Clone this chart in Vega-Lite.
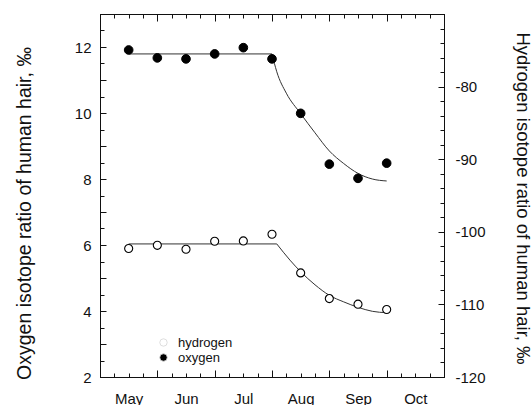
{
  "$schema": "https://vega.github.io/schema/vega-lite/v6.json",
  "width": 344,
  "height": 363,
  "autosize": {"type": "none"},
  "padding": {"left": 100, "top": 14, "right": 88, "bottom": 28},
  "background": "white",
  "config": {
    "font": "Liberation Sans",
    "view": {"stroke": "#111", "strokeWidth": 1},
    "axis": {"domain": false, "grid": false, "ticks": true, "zindex": 2, "tickColor": "#111", "tickWidth": 1, "labelColor": "#111", "titleColor": "#111", "labelFont": "Liberation Sans", "titleFont": "Liberation Sans", "labelFontSize": 15, "titleFontSize": 16, "titleFontWeight": "normal", "labelOverlap": false, "labelFlush": false}
  },
  "datasets": {
    "pts": [
      {"day": 15, "series": "oxygen", "value": 11.91},
      {"day": 30, "series": "oxygen", "value": 11.67},
      {"day": 45, "series": "oxygen", "value": 11.64},
      {"day": 60, "series": "oxygen", "value": 11.79},
      {"day": 75, "series": "oxygen", "value": 11.98},
      {"day": 90, "series": "oxygen", "value": 11.64},
      {"day": 105, "series": "oxygen", "value": 9.99},
      {"day": 120, "series": "oxygen", "value": 8.45},
      {"day": 135, "series": "oxygen", "value": 8.02},
      {"day": 150, "series": "oxygen", "value": 8.48},
      {"day": 15, "series": "hydrogen", "value": -102.3},
      {"day": 30, "series": "hydrogen", "value": -101.86},
      {"day": 45, "series": "hydrogen", "value": -102.4},
      {"day": 60, "series": "hydrogen", "value": -101.3},
      {"day": 75, "series": "hydrogen", "value": -101.26},
      {"day": 90, "series": "hydrogen", "value": -100.34},
      {"day": 105, "series": "hydrogen", "value": -105.66},
      {"day": 120, "series": "hydrogen", "value": -109.2},
      {"day": 135, "series": "hydrogen", "value": -109.97},
      {"day": 150, "series": "hydrogen", "value": -110.7}
    ],
    "fit": [
      {"day": 15, "series": "oxygen", "seg": "flat", "value": 11.79},
      {"day": 90, "series": "oxygen", "seg": "flat", "value": 11.79},
      {"day": 90, "series": "oxygen", "seg": "curve", "value": 11.79},
      {"day": 92.5, "series": "oxygen", "seg": "curve", "value": 11.25},
      {"day": 97.5, "series": "oxygen", "seg": "curve", "value": 10.6},
      {"day": 105, "series": "oxygen", "seg": "curve", "value": 9.98},
      {"day": 112.5, "series": "oxygen", "seg": "curve", "value": 9.4},
      {"day": 120, "series": "oxygen", "seg": "curve", "value": 8.85},
      {"day": 127.5, "series": "oxygen", "seg": "curve", "value": 8.47},
      {"day": 135, "series": "oxygen", "seg": "curve", "value": 8.17},
      {"day": 142.5, "series": "oxygen", "seg": "curve", "value": 8.0},
      {"day": 150, "series": "oxygen", "seg": "curve", "value": 7.94},
      {"day": 15, "series": "hydrogen", "seg": "flat", "value": -101.67},
      {"day": 92.5, "series": "hydrogen", "seg": "flat", "value": -101.67},
      {"day": 92.5, "series": "hydrogen", "seg": "curve", "value": -101.67},
      {"day": 99.4, "series": "hydrogen", "seg": "curve", "value": -103.9},
      {"day": 105, "series": "hydrogen", "seg": "curve", "value": -105.5},
      {"day": 112.5, "series": "hydrogen", "seg": "curve", "value": -107.3},
      {"day": 120, "series": "hydrogen", "seg": "curve", "value": -108.75},
      {"day": 127.5, "series": "hydrogen", "seg": "curve", "value": -109.65},
      {"day": 135, "series": "hydrogen", "seg": "curve", "value": -110.4},
      {"day": 142.5, "series": "hydrogen", "seg": "curve", "value": -110.95},
      {"day": 150, "series": "hydrogen", "seg": "curve", "value": -111.15}
    ]
  },
  "layer": [
    {
      "encoding": {
        "x": {"field": "day", "type": "quantitative", "scale": {"domain": [0, 180], "nice": false, "zero": false},
          "axis": {"orient": "bottom", "title": null,
            "values": [0, 15, 30, 45, 60, 75, 90, 105, 120, 135, 150, 165, 180],
            "tickSize": {"condition": {"test": "datum.value >= 0", "value": 7}, "value": 7}, "offset": -7,
            "labelPadding": 14,
            "labelExpr": "datum.value === 15 ? 'May' : datum.value === 45 ? 'Jun' : datum.value === 75 ? 'Jul' : datum.value === 105 ? 'Aug' : datum.value === 135 ? 'Sep' : datum.value === 165 ? 'Oct' : ''",
            "tickOpacity": {"condition": {"test": "datum.value % 30 === 0", "value": 1}, "value": 0}}},
        "y": {"field": "value", "type": "quantitative", "scale": {"domain": [2, 13], "nice": false, "zero": false},
          "axis": {"orient": "left", "title": "Oxygen isotope ratio of human hair, ‰",
            "values": [2, 3, 4, 5, 6, 7, 8, 9, 10, 11, 12, 13],
            "tickSize": {"condition": {"test": "datum.value >= 0", "value": 6}, "value": 6}, "offset": -6,
            "labelPadding": 9,
            "labelExpr": "datum.value % 2 === 0 && datum.value <= 12 ? '' + datum.value : ''",
            "titleFontSize": 19.5,
            "titleX": -82, "titleY": 199, "titleBaseline": "middle", "titleAngle": -90}}
      },
      "layer": [
        {"data": {"name": "fit"}, "transform": [{"filter": "datum.series === 'oxygen'"}],
          "mark": {"type": "line", "color": "#333", "strokeWidth": 1, "interpolate": "monotone"},
          "encoding": {"detail": {"field": "seg"}}},
        {"data": {"name": "pts"}, "transform": [{"filter": "datum.series === 'oxygen'"}],
          "mark": {"type": "point", "filled": true, "shape": "circle", "size": 75, "stroke": "#000", "strokeWidth": 1, "opacity": 1},
          "encoding": {"fill": {"field": "series", "type": "nominal",
            "scale": {"domain": ["hydrogen", "oxygen"], "range": ["white", "black"]},
            "legend": {"title": null, "orient": "none", "legendX": 57, "legendY": 322, "labelFontSize": 13, "labelFont": "Liberation Sans", "labelColor": "#111", "symbolSize": 55, "symbolStrokeColor": "#d5d5d5", "symbolStrokeWidth": 0.8, "rowPadding": 1, "labelOffset": 8, "padding": 0}}}}
      ]
    },
    {
      "encoding": {
        "x": {"field": "day", "type": "quantitative", "scale": {"domain": [0, 180], "nice": false, "zero": false},
          "axis": {"orient": "top", "title": null, "labels": false,
            "values": [0, 30, 60, 90, 120, 150, 180],
            "tickSize": {"condition": {"test": "datum.value >= 0", "value": 7}, "value": 7}, "offset": -7}},
        "y": {"field": "value", "type": "quantitative", "scale": {"domain": [-120, -70], "nice": false, "zero": false},
          "axis": {"orient": "right", "title": "Hydrogen isotope ratio of human hair, ‰",
            "values": [-120, -110, -100, -90, -80, -70],
            "tickSize": {"condition": {"test": "datum.value <= 0", "value": 6}, "value": 6}, "offset": -6,
            "labelPadding": 11,
            "labelExpr": "datum.value < -70 ? '' + datum.value : ''",
            "titleFontSize": 18.5,
            "titleX": 84, "titleY": 184, "titleBaseline": "middle", "titleAngle": 90}}
      },
      "layer": [
        {"data": {"name": "fit"}, "transform": [{"filter": "datum.series === 'hydrogen'"}],
          "mark": {"type": "line", "color": "#333", "strokeWidth": 1, "interpolate": "monotone"},
          "encoding": {"detail": {"field": "seg"}}},
        {"data": {"name": "pts"}, "transform": [{"filter": "datum.series === 'hydrogen'"}],
          "mark": {"type": "point", "filled": true, "shape": "circle", "size": 65, "stroke": "#000", "strokeWidth": 1.1, "opacity": 1},
          "encoding": {"fill": {"field": "series", "type": "nominal",
            "scale": {"domain": ["hydrogen", "oxygen"], "range": ["white", "black"]}}}}
      ]
    },
    {
      "data": {"name": "pts"},
      "transform": [{"filter": "datum.series === 'oxygen'"}],
      "mark": {"type": "point", "opacity": 0},
      "encoding": {
        "x": {"field": "day", "type": "quantitative", "scale": {"domain": [0, 180], "nice": false, "zero": false},
          "axis": {"orient": "bottom", "title": null, "labels": false,
            "values": [0, 7.5, 15, 22.5, 30, 37.5, 45, 52.5, 60, 67.5, 75, 82.5, 90, 97.5, 105, 112.5, 120, 127.5, 135, 142.5, 150, 157.5, 165, 172.5, 180],
            "tickSize": {"condition": {"test": "datum.value >= 0", "value": 4}, "value": 4}, "offset": -4}},
        "y": {"field": "value", "type": "quantitative", "scale": {"domain": [2, 13], "nice": false, "zero": false},
          "axis": {"orient": "left", "title": null, "labels": false,
            "values": [2, 2.5, 3, 3.5, 4, 4.5, 5, 5.5, 6, 6.5, 7, 7.5, 8, 8.5, 9, 9.5, 10, 10.5, 11, 11.5, 12, 12.5, 13],
            "tickSize": {"condition": {"test": "datum.value >= 0", "value": 4}, "value": 4}, "offset": -4}}
      }
    },
    {
      "data": {"name": "pts"},
      "transform": [{"filter": "datum.series === 'hydrogen'"}],
      "mark": {"type": "point", "opacity": 0},
      "encoding": {
        "x": {"field": "day", "type": "quantitative", "scale": {"domain": [0, 180], "nice": false, "zero": false},
          "axis": {"orient": "top", "title": null, "labels": false,
            "values": [0, 7.5, 15, 22.5, 30, 37.5, 45, 52.5, 60, 67.5, 75, 82.5, 90, 97.5, 105, 112.5, 120, 127.5, 135, 142.5, 150, 157.5, 165, 172.5, 180],
            "tickSize": {"condition": {"test": "datum.value >= 0", "value": 4}, "value": 4}, "offset": -4}},
        "y": {"field": "value", "type": "quantitative", "scale": {"domain": [-120, -70], "nice": false, "zero": false},
          "axis": {"orient": "right", "title": null, "labels": false,
            "values": [-120, -118, -116, -114, -112, -110, -108, -106, -104, -102, -100, -98, -96, -94, -92, -90, -88, -86, -84, -82, -80, -78, -76, -74, -72, -70],
            "tickSize": {"condition": {"test": "datum.value <= 0", "value": 4}, "value": 4}, "offset": -4}}
      }
    }
  ],
  "resolve": {"scale": {"x": "independent", "y": "independent"}, "axis": {"x": "independent", "y": "independent"}}
}
